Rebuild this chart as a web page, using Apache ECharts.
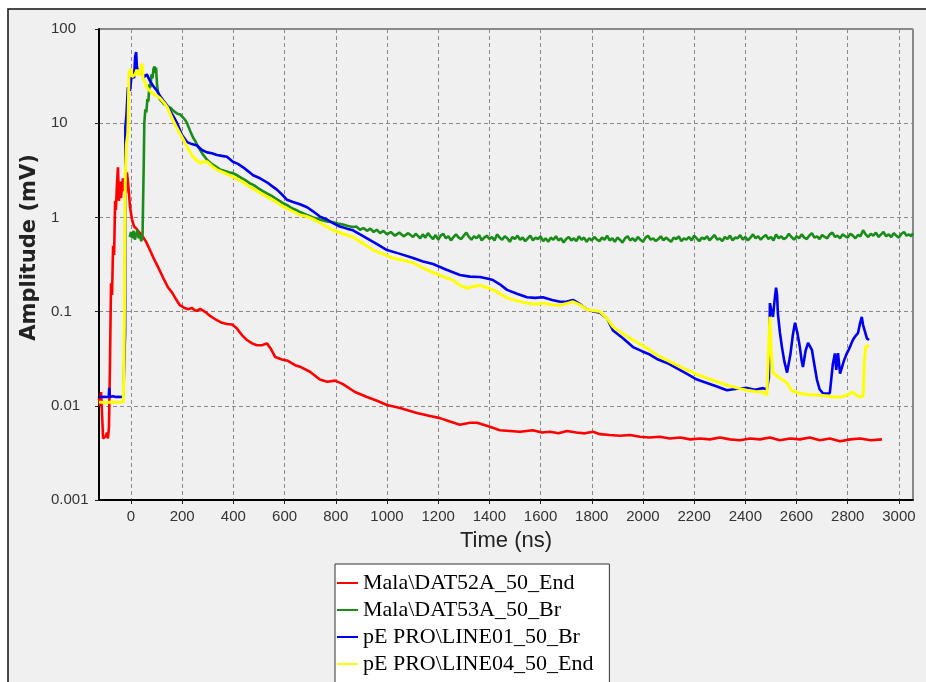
<!DOCTYPE html>
<html>
<head>
<meta charset="utf-8">
<script src="https://cdn.jsdelivr.net/npm/echarts@6/dist/echarts.min.js"></script>
<style>
html,body{margin:0;padding:0;background:#fff;}
#chart{width:926px;height:682px;}
</style>
</head>
<body>
<div id="chart"></div>
<script>
const seriesNames = ['Mala\\DAT52A_50_End', 'Mala\\DAT53A_50_Br', 'pE PRO\\LINE01_50_Br', 'pE PRO\\LINE04_50_End'];
const xTicks = [0,200,400,600,800,1000,1200,1400,1600,1800,2000,2200,2400,2600,2800,3000];
const yTickLabels = ['0.001','0.01','0.1','1','10','100'];

const redData = [
[-125,0.012],[-121,0.010],[-117,0.014],[-113,0.008],[-109,0.0045],[-102,0.0043],[-98,0.0048],[-94,0.0052],[-90,0.0045],[-86,0.006],
[-82,0.03],[-78,0.2],[-74,0.15],[-70,0.5],[-66,0.4],[-62,1.5],[-59,1.2],[-55,2.2],[-51,3.4],[-47,1.5],[-43,2.4],[-39,1.6],[-35,2.2],
[-31,2.6],[-27,1.9],[-23,2.3],[-20,1.8],[-16,3.0],[-12,2.4],[-8,1.8],[-4,1.3],[4,0.95],[12,0.8],[23,0.75],[35,0.68],[47,0.62],[59,0.55],
[74,0.45],[90,0.36],[105,0.3],[125,0.23],[145,0.18],[160,0.16],[176,0.135],[191,0.117],[207,0.11],[223,0.106],[238,0.109],[250,0.103],
[258,0.102],[270,0.107],[277,0.104],[293,0.098],[309,0.09],[332,0.082],[355,0.076],[375,0.074],[395,0.073],[414,0.066],[434,0.056],
[453,0.05],[473,0.046],[492,0.044],[512,0.044],[531,0.046],[547,0.04],[563,0.033],[590,0.031],[613,0.030],[641,0.027],[660,0.026],
[699,0.023],[738,0.019],[766,0.018],[797,0.0185],[828,0.017],[875,0.014],[922,0.0124],[961,0.0113],[1000,0.0102],[1051,0.0095],
[1117,0.0084],[1168,0.0078],[1207,0.0074],[1246,0.0068],[1285,0.0063],[1324,0.0066],[1352,0.0066],[1402,0.0060],[1441,0.0055],
[1480,0.0054],[1520,0.0053],[1570,0.0055],[1605,0.0052],[1637,0.0053],[1670,0.0051],[1703,0.0054],[1740,0.0052],[1773,0.0051],
[1805,0.0053],[1832,0.005],[1870,0.0049],[1910,0.0048],[1950,0.0049],[1988,0.0047],[2025,0.0046],[2066,0.0047],[2105,0.0045],
[2145,0.0046],[2185,0.0044],[2223,0.0045],[2262,0.0044],[2301,0.0046],[2340,0.0044],[2379,0.0043],[2418,0.0045],[2457,0.0044],
[2496,0.0046],[2535,0.0043],[2574,0.0045],[2613,0.0044],[2652,0.0046],[2691,0.0043],[2730,0.0045],[2770,0.0042],[2810,0.0044],
[2848,0.0045],[2890,0.0043],[2934,0.0044]
];

const greenData = [
[-5,0.62],[0,0.7],[5,0.6],[10,0.72],[15,0.58],[20,0.66],[25,0.74],[30,0.6],[35,0.65],[40,0.56],[45,0.63],[48,0.6],
[50,4],[52,10],[56,14],[60,13],[64,18],[68,17],[72,26],[76,24],[80,33],[84,30],[88,38],[92,40],[95,34],[98,39],[102,25],[106,21],
[112,18],[120,17],[128,16],[136,15.5],[145,15],[155,14.5],[164,13.7],[174,13],[184,12.5],[192,12.4],[199,12.2],[210,11],[219,10],
[230,8.4],[242,7.1],[252,6.4],[262,5.6],[280,4.7],[297,4.1],[315,3.7],[336,3.4],[350,3.2],[367,3.1],[385,3.0],[398,2.95],[415,2.8],
[434,2.6],[450,2.45],[465,2.3],[480,2.2],[496,2.05],[515,1.9],[531,1.8],[548,1.7],[563,1.6],[580,1.5],[594,1.42],[610,1.35],[629,1.25],
[645,1.2],[660,1.14],[685,1.07],[711,1.0],[730,0.96],[750,0.93],[770,0.9],[789,0.89],[808,0.86],[828,0.84],[848,0.81],[867,0.79],
[880,0.8],[895,0.74],[908,0.77],[922,0.72],[935,0.76],[948,0.7],[960,0.74],[973,0.68],[986,0.72],[1000,0.66],[1015,0.7],[1031,0.64],
[1048,0.69],[1065,0.63],[1083,0.68],[1102,0.62],
[1112,0.67],[1120,0.64],[1130,0.6],[1140,0.66],[1150,0.61],[1160,0.68],[1170,0.63],[1180,0.59],[1190,0.65],[1200,0.58],[1210,0.64],
[1220,0.67],[1230,0.6],[1240,0.63],[1250,0.57],[1260,0.62],[1270,0.66],[1280,0.61],[1290,0.59],[1300,0.64],[1310,0.69],[1320,0.62],
[1330,0.58],[1340,0.63],[1350,0.6],[1360,0.65],[1370,0.57],[1380,0.61],[1390,0.64],[1400,0.59],[1410,0.62],[1420,0.57],[1430,0.66],
[1440,0.61],[1450,0.58],[1460,0.63],[1470,0.6],[1480,0.55],[1490,0.62],[1500,0.59],[1510,0.64],[1520,0.58],[1530,0.61],[1540,0.56],
[1550,0.6],[1560,0.64],[1570,0.57],[1580,0.61],[1590,0.59],[1600,0.63],[1610,0.56],[1620,0.6],[1630,0.55],[1640,0.61],[1650,0.58],
[1660,0.63],[1670,0.57],[1680,0.6],[1690,0.54],[1700,0.59],[1710,0.62],[1720,0.57],[1730,0.6],[1740,0.56],[1750,0.63],[1760,0.58],
[1770,0.61],[1780,0.55],[1790,0.6],[1800,0.57],[1810,0.62],[1820,0.58],[1830,0.56],[1840,0.61],[1850,0.58],[1860,0.64],[1870,0.57],
[1880,0.6],[1890,0.55],[1900,0.61],[1910,0.58],[1920,0.54],[1930,0.6],[1940,0.63],[1950,0.57],[1960,0.6],[1970,0.56],[1980,0.62],
[1990,0.58],[2000,0.55],[2010,0.61],[2020,0.64],[2030,0.58],[2040,0.6],[2050,0.56],[2060,0.59],[2070,0.63],[2080,0.57],[2090,0.61],
[2100,0.58],[2110,0.55],[2120,0.61],[2130,0.59],[2140,0.63],[2150,0.56],[2160,0.6],[2170,0.58],[2180,0.62],[2190,0.57],[2200,0.64],
[2210,0.6],[2220,0.56],[2230,0.61],[2240,0.59],[2250,0.63],[2260,0.57],[2270,0.61],[2280,0.65],[2290,0.58],[2300,0.6],[2310,0.56],
[2320,0.62],[2330,0.59],[2340,0.64],[2350,0.57],[2360,0.61],[2370,0.6],[2380,0.65],[2390,0.58],[2400,0.62],[2410,0.57],[2420,0.61],
[2430,0.66],[2440,0.6],[2450,0.63],[2460,0.58],[2470,0.62],[2480,0.65],[2490,0.59],[2500,0.62],[2510,0.57],[2520,0.66],[2530,0.6],
[2540,0.63],[2550,0.59],[2560,0.61],[2570,0.67],[2580,0.62],[2590,0.58],[2600,0.63],[2610,0.6],[2620,0.66],[2630,0.61],[2640,0.59],
[2650,0.64],[2660,0.68],[2670,0.61],[2680,0.63],[2690,0.59],[2700,0.65],[2710,0.62],[2720,0.6],[2730,0.66],[2740,0.69],[2750,0.62],
[2760,0.64],[2770,0.6],[2780,0.66],[2790,0.63],[2800,0.61],[2810,0.67],[2820,0.64],[2830,0.6],[2840,0.65],[2850,0.63],[2860,0.73],
[2870,0.66],[2880,0.62],[2890,0.67],[2900,0.64],[2910,0.69],[2920,0.62],[2930,0.66],[2940,0.7],[2950,0.63],[2960,0.66],[2970,0.62],
[2980,0.68],[2990,0.64],[3000,0.61],[3010,0.67],[3020,0.7],[3030,0.64],[3040,0.66],[3048,0.63],[3055,0.68]
];

const blueData = [
[-125,0.0125],[-115,0.0124],[-105,0.0125],[-95,0.0124],[-87,0.0124],[-85,0.0155],[-82,0.0124],[-70,0.0126],[-60,0.0124],[-50,0.0125],
[-40,0.0124],[-30,0.0126],[-25,0.013],[-23,0.06],[-22,9.1],[-18,12],[-12,24],[-4,22],[4,35],[12,30],[16,50],[20,57],[23,40],[27,35],
[35,34],[43,35],[51,31],[62,33],[74,28],[86,25],[102,22],[113,19.5],[125,17.6],[141,15.5],[152,13.7],[168,11.5],[180,10],[199,7.5],
[219,6.3],[238,6.0],[258,5.8],[277,5.2],[297,4.9],[316,4.8],[336,4.6],[355,4.5],[375,4.4],[398,3.9],[418,3.7],[438,3.4],[457,3.1],
[477,2.8],[504,2.6],[531,2.36],[551,2.15],[570,1.97],[590,1.75],[609,1.54],[633,1.46],[660,1.38],[688,1.28],[711,1.16],[738,1.02],
[766,0.95],[789,0.87],[816,0.8],[844,0.76],[867,0.73],[895,0.66],[922,0.6],[961,0.52],[1000,0.45],[1051,0.41],[1102,0.37],[1141,0.34],
[1180,0.32],[1230,0.28],[1285,0.245],[1324,0.235],[1363,0.233],[1391,0.225],[1414,0.216],[1441,0.195],[1469,0.17],[1508,0.155],
[1547,0.142],[1578,0.14],[1609,0.142],[1645,0.133],[1676,0.127],[1703,0.128],[1727,0.133],[1754,0.12],[1781,0.105],[1809,0.1],
[1832,0.097],[1859,0.085],[1883,0.063],[1922,0.052],[1961,0.042],[1996,0.038],[2027,0.035],[2059,0.031],[2094,0.0285],[2133,0.025],
[2172,0.0218],[2211,0.019],[2250,0.0175],[2289,0.016],[2328,0.0146],[2367,0.0152],[2406,0.0154],[2438,0.0148],[2469,0.0154],
[2484,0.015],[2492,0.02],[2496,0.123],[2502,0.1],[2508,0.088],[2514,0.13],[2520,0.18],[2524,0.15],[2527,0.097],[2535,0.06],[2543,0.042],
[2552,0.03],[2563,0.0225],[2570,0.023],[2576,0.035],[2585,0.055],[2594,0.076],[2603,0.06],[2613,0.042],[2620,0.03],[2625,0.0258],
[2635,0.038],[2645,0.0466],[2652,0.045],[2660,0.0393],[2670,0.027],[2680,0.0188],[2690,0.015],[2703,0.0136],[2715,0.0135],[2730,0.0136],
[2742,0.028],[2750,0.036],[2755,0.024],[2762,0.0363],[2770,0.022],[2777,0.0225],[2785,0.03],[2797,0.0363],[2805,0.04],[2812,0.042],
[2820,0.05],[2830,0.055],[2840,0.059],[2848,0.075],[2855,0.088],[2860,0.072],[2867,0.07],[2875,0.052],[2883,0.05]
];

const yellowData = [
[-125,0.011],[-100,0.0108],[-75,0.011],[-50,0.0109],[-30,0.011],[-27,0.011],[-26,0.06],[-24,0.5],[-22,3],[-18,6],[-12,8],[-8,34],
[-4,35],[0,38],[4,31],[8,30],[16,33],[23,37],[31,32],[39,40],[43,43],[47,30],[55,27],[62,24],[74,22],[86,20.6],[102,19.5],[113,18.5],
[129,16.5],[141,14.9],[152,12.8],[164,10.8],[176,9.2],[191,7.8],[207,6.5],[219,5.6],[230,5.0],[242,4.4],[258,4.0],[270,3.78],[285,3.9],
[297,3.9],[316,3.5],[336,3.2],[367,2.95],[398,2.7],[434,2.4],[465,2.1],[496,1.88],[531,1.66],[563,1.48],[594,1.3],[629,1.17],[660,1.06],
[688,1.02],[711,0.96],[750,0.84],[789,0.73],[828,0.67],[867,0.62],[906,0.53],[945,0.45],[984,0.41],[1023,0.37],[1063,0.35],[1102,0.33],
[1141,0.29],[1180,0.26],[1219,0.235],[1258,0.216],[1285,0.19],[1313,0.177],[1336,0.185],[1363,0.19],[1391,0.18],[1414,0.17],[1441,0.155],
[1469,0.14],[1508,0.13],[1547,0.123],[1578,0.12],[1609,0.123],[1645,0.118],[1676,0.117],[1703,0.122],[1727,0.127],[1754,0.118],
[1781,0.105],[1809,0.102],[1832,0.1],[1859,0.085],[1883,0.069],[1922,0.058],[1961,0.05],[1996,0.044],[2027,0.039],[2059,0.034],
[2094,0.0305],[2133,0.027],[2172,0.024],[2211,0.0215],[2250,0.0197],[2289,0.018],[2328,0.0166],[2367,0.0155],[2406,0.0146],
[2438,0.0142],[2469,0.014],[2484,0.013],[2490,0.0135],[2496,0.088],[2500,0.04],[2508,0.0225],[2520,0.021],[2535,0.0197],[2550,0.0185],
[2563,0.0175],[2580,0.0146],[2594,0.014],[2613,0.0136],[2640,0.0132],[2680,0.013],[2720,0.0127],[2742,0.0124],[2780,0.0125],
[2797,0.013],[2820,0.014],[2835,0.0128],[2850,0.0124],[2860,0.0127],[2865,0.03],[2870,0.042],[2883,0.044]
];

const seriesColors = ['#ff0000', '#1a8c1a', '#0000f0', '#ffff00'];
const allData = [redData, greenData, blueData, yellowData];

const chart = echarts.init(document.getElementById('chart'), null, {renderer: 'canvas'});
const option = {
  animation: false,
  backgroundColor: '#ffffff',
  graphic: [{
    type: 'rect', z: -100, silent: true,
    shape: {x: 8, y: 9, width: 1000, height: 1000},
    style: {fill: '#f0f0f0', stroke: '#111', lineWidth: 1.5}
  }],
  grid: {
    left: 99, right: 13, top: 29, bottom: 182,
    show: true, backgroundColor: 'transparent', borderColor: '#222', borderWidth: 1
  },
  legend: {
    orient: 'vertical', left: 335, top: 564, height: 140,
    data: seriesNames,
    icon: 'rect',
    itemWidth: 21, itemHeight: 2, itemGap: 5,
    backgroundColor: '#ffffff', borderColor: '#333', borderWidth: 1,
    padding: [8, 16, 14, 2],
    textStyle: {fontFamily: 'Liberation Serif', fontSize: 22, color: '#000', lineHeight: 22}
  },
  xAxis: {
    type: 'value', min: -125, max: 3055,
    name: 'Time (ns)', nameLocation: 'middle', nameGap: 30,
    nameTextStyle: {fontFamily: 'Liberation Sans', fontSize: 22, color: '#222'},
    axisLine: {show: true, onZero: false, lineStyle: {color: '#000', width: 2}},
    axisTick: {show: true, length: 4, customValues: xTicks, lineStyle: {color: '#222'}},
    axisLabel: {customValues: xTicks, margin: 9, fontFamily: 'Liberation Sans', fontSize: 15, color: '#333',
      formatter: function (v) { return String(v); }},
    splitLine: {show: true, lineStyle: {color: '#8a8a8a', type: [4, 3], width: 1}}
  },
  yAxis: {
    type: 'log', logBase: 10, min: 0.001, max: 100,
    name: 'Amplitude (mV)', nameLocation: 'middle', nameGap: 57,
    nameTextStyle: {fontFamily: 'DejaVu Sans', fontWeight: 'bold', fontSize: 21, color: '#222', padding: [0, 0, 0, 34]},
    axisLine: {show: true, onZero: false, lineStyle: {color: '#000', width: 2}},
    axisTick: {show: true, length: 4, lineStyle: {color: '#222'}},
    axisLabel: {
      align: 'left', margin: 48, fontFamily: 'Liberation Sans', fontSize: 15, color: '#333',
      formatter: function (v) { return yTickLabels[Math.round(Math.log10(v)) + 3]; }
    },
    splitLine: {show: true, lineStyle: {color: '#8a8a8a', type: [4, 3], width: 1}}
  },
  series: allData.map(function (d, i) {
    return {
      name: seriesNames[i], type: 'line', data: d, symbol: 'none', smooth: false,
      lineStyle: {color: seriesColors[i], width: i === 3 ? 3 : 2.6},
      itemStyle: {color: seriesColors[i]},
      z: 2 + i
    };
  })
};
chart.setOption(option);
</script>
</body>
</html>
